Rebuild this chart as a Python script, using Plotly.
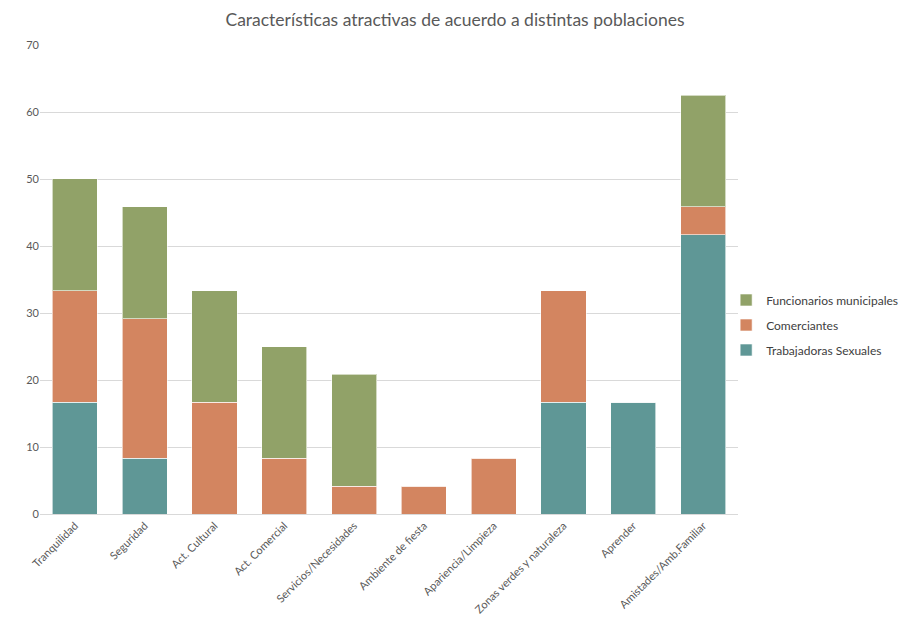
import plotly.graph_objects as go

categories = ["Tranquilidad", "Seguridad", "Act. Cultural", "Act. Comercial",
              "Servicios/Necesidades", "Ambiente de fiesta", "Apariencia/Limpieza",
              "Zonas verdes y naturaleza", "Aprender", "Amistades/Amb.Familiar"]
trabajadoras = [16.67, 8.33, 0, 0, 0, 0, 0, 16.67, 16.67, 41.67]
comerciantes = [16.67, 20.83, 16.67, 8.33, 4.17, 4.17, 8.33, 16.67, 0, 4.17]
funcionarios = [16.67, 16.67, 16.67, 16.67, 16.67, 0, 0, 0, 0, 16.67]

series = [
    ("Trabajadoras Sexuales", trabajadoras, "#5F9796", 3),
    ("Comerciantes", comerciantes, "#D38560", 2),
    ("Funcionarios municipales", funcionarios, "#91A268", 1),
]

fig = go.Figure()
for name, vals, color, rank in series:
    fig.add_trace(go.Bar(
        x=categories, y=vals, name=name, legendgroup=name, legendrank=rank,
        marker=dict(color=color, line=dict(color="rgba(255,255,255,0.6)", width=1)),
        hoverinfo="x+y+name",
    ))

font_family = "Lato, 'Open Sans', sans-serif"
fig.update_layout(
    barmode="stack",
    bargap=0.355,
    width=902, height=616,
    paper_bgcolor="white", plot_bgcolor="white",
    margin=dict(l=32, r=172, t=37, b=110, autoexpand=False),
    title=dict(text="Características atractivas de acuerdo a distintas poblaciones",
               x=0.4956, xref="container", xanchor="center", y=0.981, yanchor="middle",
               font=dict(family=font_family, size=17.5, color="#595959")),
    font=dict(family=font_family, color="#595959"),
    legend=dict(traceorder="grouped", x=0.983, xanchor="left", y=0.403, yanchor="middle",
                bgcolor="rgba(0,0,0,0)",
                font=dict(size=12, color="#404040"), itemwidth=30, tracegroupgap=6),
    showlegend=True,
)
fig.update_yaxes(range=[0, 70], dtick=10, showgrid=True, gridcolor="#D9D9D9",
                 zeroline=False, tickfont=dict(size=11, color="#595959"),
                 ticks="", showline=False, automargin=False)
fig.update_xaxes(showline=True, linecolor="#D9D9D9", linewidth=1, tickangle=-45,
                 tickfont=dict(size=11, color="#595959"), ticks="", automargin=False)

fig.write_html("out.html")
